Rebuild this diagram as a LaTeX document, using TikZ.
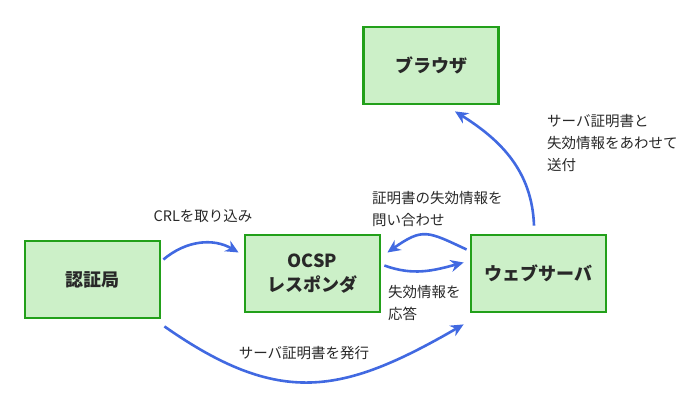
\documentclass[tikz,border=0pt]{standalone}
\usepackage{fontspec}
\setmainfont{Noto Sans CJK JP}
\usetikzlibrary{arrows.meta,calc}
\definecolor{boxfill}{RGB}{204,240,200}
\definecolor{boxline}{RGB}{34,160,26}
\definecolor{arrowblue}{RGB}{65,105,225}
\definecolor{txt}{RGB}{40,40,40}
\tikzset{
  entity/.style={draw=boxline, fill=boxfill, line width=2.8pt, minimum width=135pt, minimum height=77pt,
    inner sep=0pt, align=center, font=\fontsize{18}{24}\selectfont\bfseries, text=txt},
  flow/.style={draw=arrowblue, line width=2.6pt, -{Stealth[length=13pt,width=12pt]}},
  lbl/.style={font=\fontsize{14.5}{22}\selectfont, text=txt, align=left, inner sep=0pt}
}
\begin{document}
\begin{tikzpicture}[x=1pt,y=-1pt]
\useasboundingbox (0,0) rectangle (700,410);
\node[entity] (ca) at (92.5,279.5) {認証局};
\node[entity] (ocsp) at (312.5,273.5) {OCSP\\レスポンダ};
\node[entity] (web) at (538.5,273.5) {ウェブサーバ};
\node[entity] (br) at (431,65.5) {ブラウザ};

\draw[flow] ($(ca.east)+(2,-20)$) to[out=40,in=150] ($(ocsp.west)+(-5,-21)$);
\draw[flow] ($(ca.south east)+(3,7)$) to[out=-35,in=-150,looseness=1.2] ($(web.south west)+(-6,11)$);
\draw[flow] ($(web.west)+(-3,-24)$) to[out=155,in=35,looseness=1.4] ($(ocsp.east)+(6,-21)$);
\draw[flow] ($(ocsp.east)+(3,-8)$) to[out=-20,in=195] ($(web.west)+(-6,-11)$);
\draw[flow] ($(web.north)+(-4.5,-8)$) to[out=92,in=-32] ($(br.south)+(24,6)$);

\node[lbl] (l1) at (203,216) {CRLを取り込み};
\node[lbl] (l2) at (304,353) {サーバ証明書を発行};
\node[lbl,anchor=west] (l3) at (372,209) {証明書の失効情報を\\問い合わせ};
\node[lbl,anchor=west] (l4) at (388,302.5) {失効情報を\\応答};
\node[lbl,anchor=west] (l5) at (547,143) {サーバ証明書と\\失効情報をあわせて\\送付};
\end{tikzpicture}
\end{document}
